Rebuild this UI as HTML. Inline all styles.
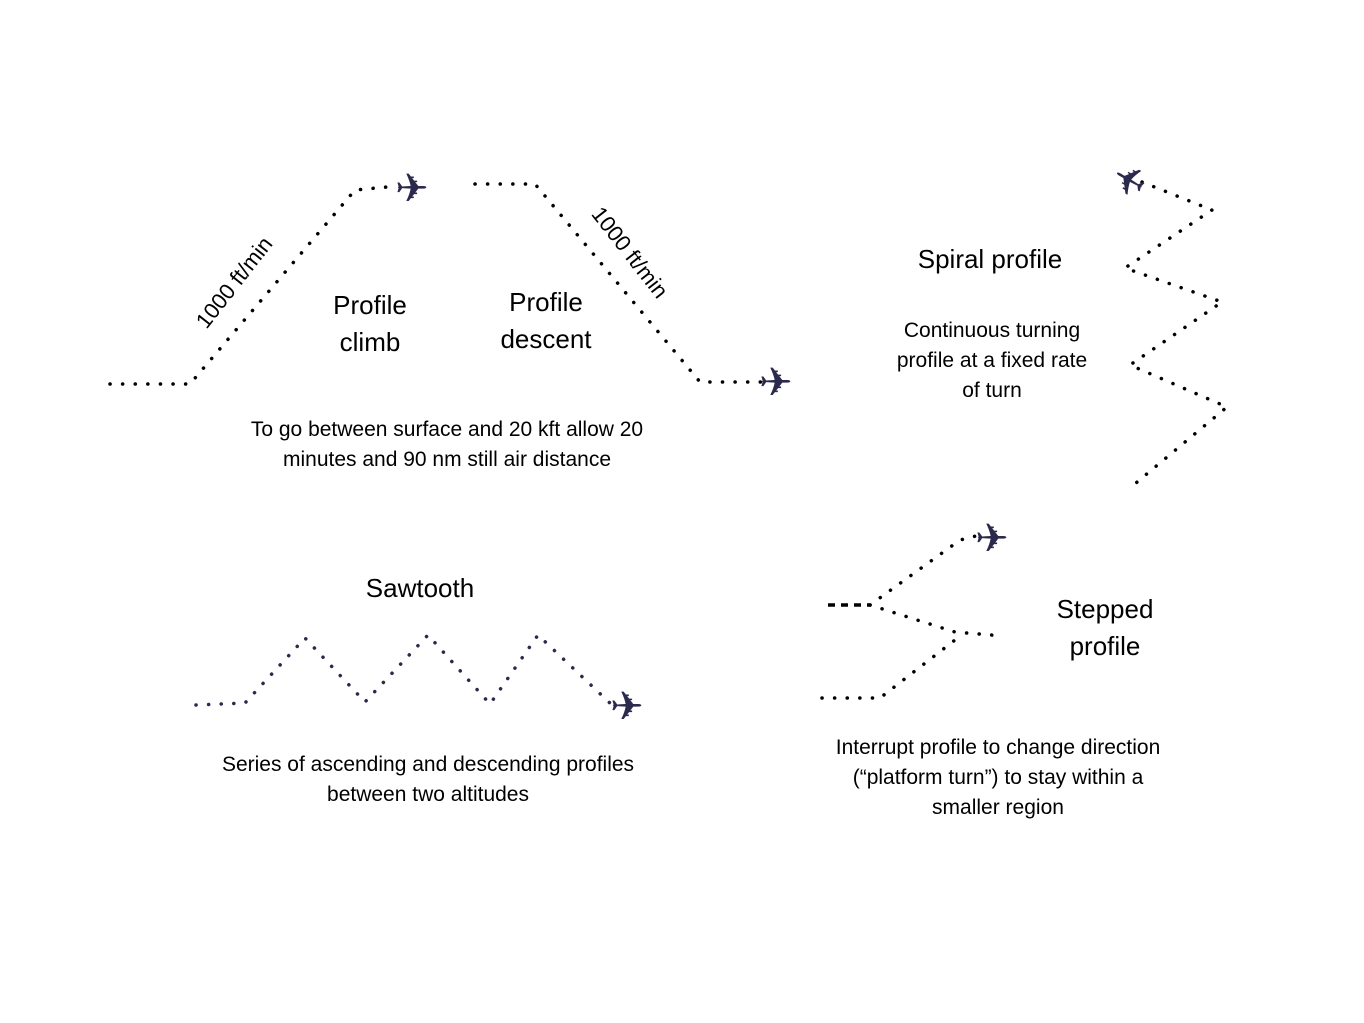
<!DOCTYPE html>
<html><head><meta charset="utf-8"><style>
body{margin:0;background:#fff;}
svg{display:block}
text{font-family:"Liberation Sans",sans-serif;fill:#000}
.p{fill:#2b2a4c;font-family:"DejaVu Sans",sans-serif;font-size:40px;font-weight:bold}
</style></head><body>
<svg width="1364" height="1023" viewBox="0 0 1364 1023">
<g fill="none" stroke="#000" stroke-width="3.5" stroke-linecap="round" stroke-dasharray="0.1 12.5">
<polyline points="110,384 190,384 355,190 398,186"/>
<polyline points="475,184 535,184 700,382 762,382"/>
<polyline points="1142,182 1212,210 1125,268 1222,302 1130,365 1227,407 1130,488"/>
<polyline stroke="#2b2a4c" points="196,705 245,703 305,638 365,702 428,635 490,704 538,635 612,705"/>
<polyline points="870,605 960,540 980,535"/>
<polyline points="870,605 955,632 1003,636"/>
<polyline points="822,698 880,698 955,640"/>
</g>
<line x1="828" y1="605" x2="870" y2="605" stroke="#000" stroke-width="3.5" stroke-dasharray="7 6"/>
<text class="p" x="395" y="202">✈</text>
<text class="p" x="759" y="396">✈</text>
<text class="p" x="975" y="552">✈</text>
<text class="p" x="610" y="720">✈</text>
<text class="p" transform="translate(1127,178) rotate(-150) translate(-20,14)">✈</text>
<text font-size="22" text-anchor="middle" transform="translate(240,287) rotate(-52)">1000 ft/min</text>
<text font-size="22" text-anchor="middle" transform="translate(624,257) rotate(52)">1000 ft/min</text>
<text font-size="26" text-anchor="middle" x="370" y="314">Profile</text>
<text font-size="26" text-anchor="middle" x="370" y="351">climb</text>
<text font-size="26" text-anchor="middle" x="546" y="311">Profile</text>
<text font-size="26" text-anchor="middle" x="546" y="348">descent</text>
<text font-size="21" text-anchor="middle" x="447" y="436">To go between surface and 20 kft allow 20</text>
<text font-size="21" text-anchor="middle" x="447" y="466">minutes and 90 nm still air distance</text>
<text font-size="26" text-anchor="middle" x="990" y="268">Spiral profile</text>
<text font-size="21" text-anchor="middle" x="992" y="337">Continuous turning</text>
<text font-size="21" text-anchor="middle" x="992" y="367">profile at a fixed rate</text>
<text font-size="21" text-anchor="middle" x="992" y="397">of turn</text>
<text font-size="26" text-anchor="middle" x="420" y="597">Sawtooth</text>
<text font-size="21" text-anchor="middle" x="428" y="771">Series of ascending and descending profiles</text>
<text font-size="21" text-anchor="middle" x="428" y="801">between two altitudes</text>
<text font-size="26" text-anchor="middle" x="1105" y="618">Stepped</text>
<text font-size="26" text-anchor="middle" x="1105" y="655">profile</text>
<text font-size="21" text-anchor="middle" x="998" y="754">Interrupt profile to change direction</text>
<text font-size="21" text-anchor="middle" x="998" y="784">(“platform turn”) to stay within a</text>
<text font-size="21" text-anchor="middle" x="998" y="814">smaller region</text>
</svg>
</body></html>
